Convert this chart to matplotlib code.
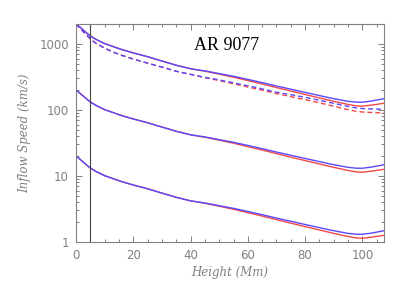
import matplotlib
matplotlib.use("Agg")
import matplotlib.pyplot as plt
from matplotlib.ticker import LogLocator, NullFormatter, MultipleLocator

# heights (Mm)
height = [0, 1, 2, 3, 4, 5, 7, 10, 13, 16, 20, 25, 30, 35, 40, 45, 50, 55,
          60, 65, 70, 75, 80, 85, 90, 95, 98, 100, 103, 107.5]

# middle family (starts at 200 km/s)
mid_blue = [200, 185, 170, 156, 143, 132, 117, 101, 91, 82, 73, 64, 55, 47.5,
            42, 39, 35.5, 32.3, 29, 25.9, 23, 20.6, 18.4, 16.5, 14.8, 13.5,
            13.1, 13.1, 13.6, 14.8]
mid_red = [200, 185, 170, 156, 143, 132, 117, 101, 91, 82, 73, 64, 55, 47.5,
           42, 38.6, 34.8, 31.3, 27.8, 24.7, 21.8, 19.3, 17.1, 15.2, 13.5,
           12.1, 11.5, 11.4, 11.8, 12.6]

# top family, solid (starts at 2000 km/s)
top_blue = [2000, 1850, 1700, 1560, 1430, 1320, 1170, 1010, 910, 820, 730,
            640, 550, 475, 420, 390, 355, 323, 290, 259, 230, 206, 184, 165,
            148, 135, 131, 131, 136, 148]
top_red = [2000, 1850, 1700, 1560, 1430, 1320, 1170, 1010, 910, 820, 730,
           640, 550, 475, 420, 386, 348, 313, 278, 247, 218, 193, 171, 152,
           135, 121, 115, 114, 118, 126]

# top family, dashed
dash_blue = [2000, 1800, 1620, 1460, 1320, 1190, 1020, 860, 750, 670, 590,
             510, 445, 385, 345, 312, 285, 257, 232, 208, 185, 170, 155, 140,
             126, 113, 107, 105, 103.5, 102]
dash_red = [2000, 1800, 1620, 1460, 1320, 1190, 1020, 860, 750, 670, 590,
            510, 445, 385, 345, 308, 278, 249, 222, 199, 177, 159, 143, 128,
            114, 101, 95, 93, 91.5, 90]

# bottom family (starts at 20 km/s)
low_blue = [20, 18.5, 17, 15.6, 14.3, 13.2, 11.7, 10.1, 9.1, 8.2, 7.3, 6.4,
            5.5, 4.75, 4.2, 3.9, 3.55, 3.23, 2.9, 2.59, 2.3, 2.06, 1.84,
            1.65, 1.48, 1.35, 1.31, 1.31, 1.36, 1.48]
low_red = [20, 18.5, 17, 15.6, 14.3, 13.2, 11.7, 10.1, 9.1, 8.2, 7.3, 6.4,
           5.5, 4.75, 4.2, 3.86, 3.48, 3.13, 2.78, 2.47, 2.18, 1.93, 1.71,
           1.52, 1.35, 1.21, 1.15, 1.14, 1.18, 1.26]

blue = "#5a48ff"
red = "#f44848"
grey = "#808080"

fig = plt.figure(figsize=(4.07, 2.91), dpi=100)
ax = fig.add_axes([0.1867, 0.1684, 0.7558, 0.7491])

for b, r in [(top_blue, top_red), (mid_blue, mid_red), (low_blue, low_red)]:
    ax.plot(height, r, color=red, lw=1)
    ax.plot(height, b, color=blue, lw=1)
ax.plot(height, dash_red, color=red, lw=1, ls=(0, (3.5, 2.2)))
ax.plot(height, dash_blue, color=blue, lw=1, ls=(0, (3.5, 2.2)))

ax.axvline(5, color="#444444", lw=0.8)

ax.set_yscale("log")
ax.set_xlim(0, 107.4)
ax.set_ylim(1, 2000)

ax.xaxis.set_major_locator(MultipleLocator(20))
ax.xaxis.set_minor_locator(MultipleLocator(5))
ax.yaxis.set_minor_locator(LogLocator(base=10, subs=range(2, 10)))
ax.yaxis.set_minor_formatter(NullFormatter())
ax.set_yticks([1, 10, 100, 1000])
ax.set_yticklabels(["1", "10", "100", "1000"])

ax.tick_params(which="both", direction="in", top=True, right=True,
               color=grey, labelcolor=grey, labelsize=8.5, width=0.7)
ax.tick_params(which="major", length=4.5, pad=5)
ax.tick_params(which="minor", length=2.5)
for s in ax.spines.values():
    s.set_color(grey)
    s.set_linewidth(0.8)

lab = dict(family="DejaVu Serif", style="italic", color=grey, fontsize=8.5)
ax.set_xlabel("Height (Mm)", labelpad=3, **lab)
ax.set_ylabel("Inflow Speed (km/s)", labelpad=6, **lab)

ax.text(0.488, 0.90, "AR 9077", transform=ax.transAxes, ha="center",
        va="center", family="Liberation Serif", fontsize=13, color="black")

fig.savefig("out.png", dpi=100)
